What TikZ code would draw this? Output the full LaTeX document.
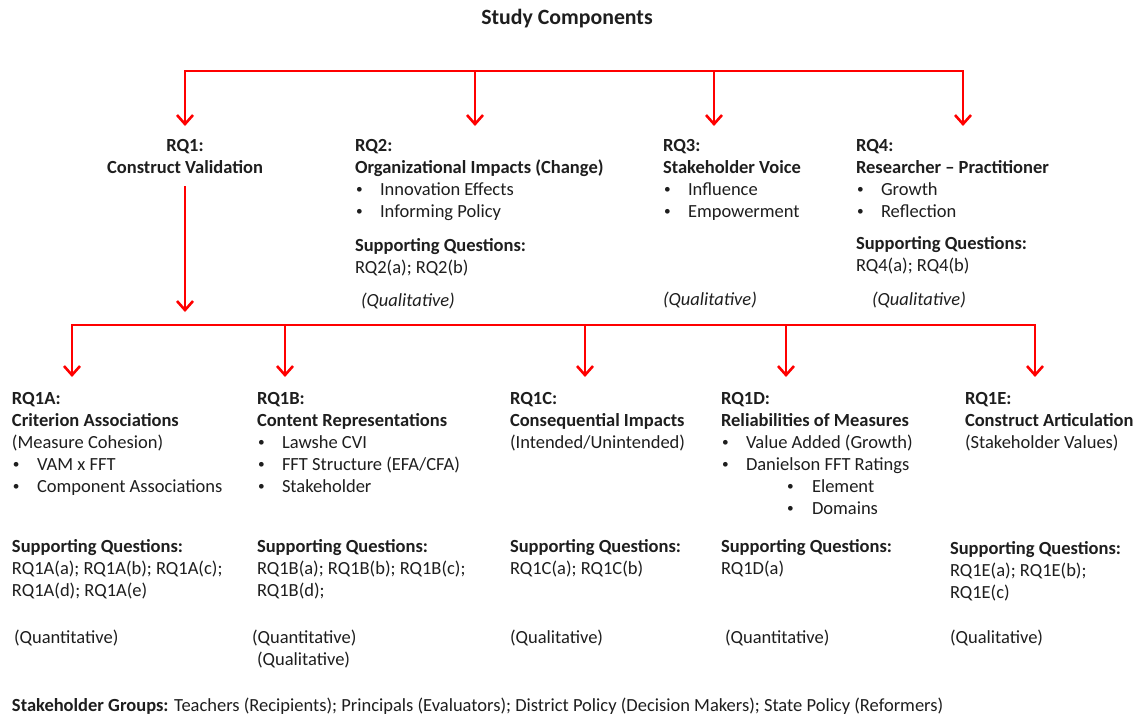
\documentclass[tikz,border=0pt]{standalone}
\usepackage{fontspec}
\usepackage{graphicx}
\setmainfont{Carlito}
\usetikzlibrary{arrows.meta}
\definecolor{linkred}{RGB}{255,0,0}
\definecolor{inktext}{RGB}{30,30,30}
% strut that fixes the top of every text block 15pt above its first baseline
\newcommand\topstrut{\rule{0pt}{15pt}}
\newcommand\smalldot{\raisebox{1.6pt}{\scalebox{0.72}{\textbullet}}}
\newcommand\itm[1]{\hspace*{1pt}\makebox[24pt][l]{\smalldot}#1}
\newcommand\subitm[1]{\hspace*{66pt}\makebox[25pt][l]{\smalldot}#1}
\begin{document}
\begin{tikzpicture}[x=1pt,y=-1pt,
  blk/.style={anchor=north west, inner sep=0pt, outer sep=0pt, align=left,
              text=inktext, font=\fontsize{18.5}{22}\selectfont},
  cblk/.style={blk, anchor=north, align=center},
  bar/.style={draw=linkred, line width=2.6pt, line join=miter},
  barbs/.style={bar, {Straight Barb[length=9pt,width=16pt]}-{Straight Barb[length=9pt,width=16pt]}},
  arr/.style={bar, -{Straight Barb[length=9pt,width=16pt]}}]
\useasboundingbox (0,0) rectangle (1133,716);
\fill[white] (0,0) rectangle (1133,716);

% title
\node[anchor=center, inner sep=0pt, text=inktext, font=\fontsize{21.8}{26}\selectfont\bfseries] (title) at (567,19) {Study Components};

% ---- upper level ----
\node[cblk] (rq1) at (185,136) {\topstrut\textbf{RQ1:}\\\textbf{Construct Validation}};

\node[blk] (rq2) at (355,136) {\topstrut\textbf{RQ2:}\\\textbf{Organizational Impacts (Change)}\\
  \itm{Innovation Effects}\\\itm{Informing Policy}};
\node[blk] (rq2s) at (355,236) {\topstrut\textbf{Supporting Questions:}\\RQ2(a); RQ2(b)};
\node[blk] (rq2m) at (361,291) {\topstrut\textit{(Qualitative)}};

\node[blk] (rq3) at (663,136) {\topstrut\textbf{RQ3:}\\\textbf{Stakeholder Voice}\\
  \itm{Influence}\\\itm{Empowerment}};
\node[blk] (rq3m) at (663,290) {\topstrut\textit{(Qualitative)}};

\node[blk] (rq4) at (856,136) {\topstrut\textbf{RQ4:}\\\textbf{Researcher -- Practitioner}\\
  \itm{Growth}\\\itm{Reflection}};
\node[blk] (rq4s) at (856,234) {\topstrut\textbf{Supporting Questions:}\\RQ4(a); RQ4(b)};
\node[blk] (rq4m) at (872,290) {\topstrut\textit{(Qualitative)}};

% ---- lower level ----
\node[blk] (rq1a) at (12,389) {\topstrut\textbf{RQ1A:}\\\textbf{Criterion Associations}\\(Measure Cohesion)\\
  \itm{VAM x FFT}\\\itm{Component Associations}};
\node[blk] (rq1as) at (12,537) {\topstrut\textbf{Supporting Questions:}\\RQ1A(a); RQ1A(b); RQ1A(c);\\RQ1A(d); RQ1A(e)};
\node[blk] (rq1am) at (14,628) {\topstrut(Quantitative)};

\node[blk] (rq1b) at (257,389) {\topstrut\textbf{RQ1B:}\\\textbf{Content Representations}\\
  \itm{Lawshe CVI}\\\itm{FFT Structure (EFA/CFA)}\\\itm{Stakeholder}};
\node[blk] (rq1bs) at (257,537) {\topstrut\textbf{Supporting Questions:}\\RQ1B(a); RQ1B(b); RQ1B(c);\\RQ1B(d);};
\node[blk] (rq1bm) at (252,628) {\topstrut(Quantitative)\\\hspace*{5pt}(Qualitative)};

\node[blk] (rq1c) at (510,389) {\topstrut\textbf{RQ1C:}\\\textbf{Consequential Impacts}\\(Intended/Unintended)};
\node[blk] (rq1cs) at (510,537) {\topstrut\textbf{Supporting Questions:}\\RQ1C(a); RQ1C(b)};
\node[blk] (rq1cm) at (510,628) {\topstrut(Qualitative)};

\node[blk] (rq1d) at (721,389) {\topstrut\textbf{RQ1D:}\\\textbf{Reliabilities of Measures}\\
  \itm{Value Added (Growth)}\\\itm{Danielson FFT Ratings}\\\subitm{Element}\\\subitm{Domains}};
\node[blk] (rq1ds) at (721,537) {\topstrut\textbf{Supporting Questions:}\\RQ1D(a)};
\node[blk] (rq1dm) at (725,628) {\topstrut(Quantitative)};

\node[blk] (rq1e) at (965,389) {\topstrut\textbf{RQ1E:}\\\textbf{Construct Articulation}\\(Stakeholder Values)};
\node[blk] (rq1es) at (950,539) {\topstrut\textbf{Supporting Questions:}\\RQ1E(a); RQ1E(b);\\RQ1E(c)};
\node[blk] (rq1em) at (950,628) {\topstrut(Qualitative)};

% footer
\node[blk] (groups) at (12,696) {\topstrut\textbf{Stakeholder Groups:} Teachers (Recipients); Principals (Evaluators); District Policy (Decision Makers); State Policy (Reformers)};

% ---- connectors ----
\coordinate (j1) at (185,71);  \coordinate (j2) at (475,71);
\coordinate (j3) at (714,71);  \coordinate (j4) at (963,71);
\coordinate (rq1-in) at (185,126); \coordinate (rq2-in) at (475,126);
\coordinate (rq3-in) at (714,126); \coordinate (rq4-in) at (963,126);
\draw[barbs] (rq1-in) -- (j1) -- (j4) -- (rq4-in);
\draw[arr] (j2) -- (rq2-in);
\draw[arr] (j3) -- (rq3-in);

\coordinate (rq1-out) at (185,186); \coordinate (hub-in) at (185,312);
\draw[arr] (rq1-out) -- (hub-in);

\coordinate (k1) at (72,325);  \coordinate (k2) at (285,325);
\coordinate (k3) at (585,325); \coordinate (k4) at (786,325);
\coordinate (k5) at (1035,325);
\coordinate (rq1a-in) at (72,377);  \coordinate (rq1b-in) at (285,377);
\coordinate (rq1c-in) at (585,377); \coordinate (rq1d-in) at (786,377);
\coordinate (rq1e-in) at (1035,377);
\draw[barbs] (rq1a-in) -- (k1) -- (k5) -- (rq1e-in);
\draw[arr] (k2) -- (rq1b-in);
\draw[arr] (k3) -- (rq1c-in);
\draw[arr] (k4) -- (rq1d-in);
\end{tikzpicture}
\end{document}
